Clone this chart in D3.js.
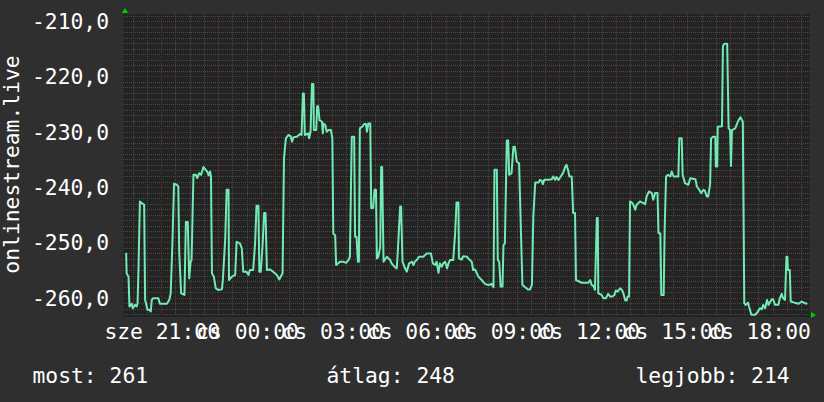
<!DOCTYPE html>
<html><head><meta charset="utf-8">
<script src="https://cdn.jsdelivr.net/npm/d3@7"></script>
<style>html,body{margin:0;padding:0;background:#2f2f2f;}svg{display:block;}</style>
</head><body><svg id="c" width="824" height="402"></svg>
<script>
// minutes since 00:00 of the first day (sze)
const times = [1185,1186,1190,1192,1197,1199,1204,1207,1209,1211,1214,1218,1223,1225,1230,1234,1237,1239,1242,1253,1256,1271,1276,1279,1283,1286,1292,1295,1297,1301,1308,1311,1315,1318,1321,1323,1327,1332,1335,1339,1343,1348,1353,1356,1359,1362,1364,1366,1370,1374,1379,1387,1389,1394,1397,1401,1402,1408,1415,1418,1425,1429,1432,1439,1443,1446,1453,1457,1460,1464,1466,1469,1473,1476,1479,1482,1489,1495,1503,1508,1513,1515,1518,1522,1527,1532,1535,1538,1545,1552,1555,1558,1560,1562,1569,1571,1574,1577,1580,1581,1586,1588,1590,1593,1598,1600,1601,1605,1608,1612,1617,1620,1622,1626,1628,1636,1643,1649,1654,
1657,1661,1666,1668,1671,1674,1676,1678,1683,1687,1691,1693,1696,1700,1702,1706,1709,1712,
1714,1717,1721,1723,1725,1728,1735,1742,1745,1751,1756,1759,1763,1765,1768,1772,1777,1782,1788,1791,1794,1798,1803,1812,1819,1828,
1832,1837,1840,1844,1847,1851,1854,1858,1862,1865,1868,1875,1879,1882,1886,1887,1893,1896,1904,1910,1914,1917,1921,1925,1928,1935,1942,1949,1956,1960,
1962,1967,1969,1972,1975,1979,1981,1984,1988,1991,1993,1998,2002,2005,2009,2014,2018,2021,2027,2032,2037,2041,
2044,2048,2055,2058,2062,2064,2067,2076,2083,2086,2090,2093,2097,2102,2107,2111,2114,2118,2120,2125,2128,2132,
2134,2146,2160,2164,2167,2171,2174,2178,2180,2181,2188,2192,2197,2202,2206,2211,2215,2218,2222,2227,2231,2234,2238,2241,2243,2246,
2248,2252,2255,2259,2262,2269,2276,2280,2283,2288,2294,2297,2301,2306,2308,2312,2314,2319,2321,2324,2328,2333,2336,2340,2350,
2352,2357,2359,2364,2371,2375,2386,2389,2394,2398,2403,2406,2410,2413,2417,2419,2424,2428,2429,2432,2433,2442,2444,2447,2453,2456,2459,2461,2463,2470,2474,2477,2481,2486,
2489,2492,2497,2499,2504,2512,2518,2522,2526,2529,2533,2537,2540,2547,2550,2554,2561,2564,2568,2571,2575,2578,2580,2581,2585,2587,2595,2604,2610,2617,2622];

const values = [-251.8,-255.5,-256.1,-261.5,-261.0,-261.8,-261.2,-261.5,-261.0,-254.9,-242.5,-242.8,-243.1,-260.3,-262.1,-262.1,-262.4,-260.3,-260.0,-260.0,-261.0,-261.0,-260.3,-259.1,-248.9,-239.3,-239.5,-239.8,-251.9,-259.1,-259.4,-246.2,-246.2,-256.4,-253.4,-253.1,-237.7,-237.7,-238.3,-237.4,-237.7,-236.3,-236.8,-237.1,-237.8,-237.1,-238.0,-255.5,-256.1,-258.2,-258.5,-258.4,-256.7,-249.2,-240.4,-240.4,-256.7,-256.1,-255.8,-249.8,-250.1,-251.0,-255.2,-255.2,-255.8,-254.9,-254.9,-250.1,-243.3,-243.3,-255.2,-255.2,-250.1,-244.6,-244.6,-254.9,-254.8,-255.2,-255.8,-256.6,-255.8,-255.5,-234.7,-231.1,-230.5,-230.7,-231.7,-230.9,-230.8,-230.3,-230.5,-223.0,-223.0,-230.5,-230.2,-231.1,-229.9,-221.3,-221.3,-229.6,-229.6,-225.3,-225.3,-227.8,-228.1,-230.2,-228.4,-228.7,-229.9,-229.6,-229.6,-231.1,-248.3,-248.6,-254.0,-253.4,-253.4,-253.6,-253.1,
-252.5,-230.8,-230.8,-248.9,-248.9,-253.4,-253.4,-229.3,-229.0,-228.5,-228.5,-229.9,-228.4,-228.4,-243.7,-243.7,-240.4,-240.4,
-252.8,-252.5,-250.7,-236.3,-236.3,-253.4,-252.5,-253.1,-253.7,-254.3,-254.6,-250.1,-243.4,-243.4,-253.4,-254.3,-255.2,-253.7,-253.4,-254.0,-253.4,-253.1,-252.5,-252.5,-251.9,-251.9,
-253.7,-254.0,-253.4,-255.4,-253.7,-254.3,-253.7,-253.4,-254.6,-253.7,-253.1,-253.1,-248.3,-242.7,-242.7,-252.8,-253.0,-252.4,-252.5,-253.1,-253.4,-254.9,-254.8,-255.5,-256.1,-256.7,-257.4,-257.6,-257.4,-258.0,
-236.8,-236.8,-253.1,-253.4,-257.9,-257.9,-250.4,-250.1,-231.5,-231.5,-237.7,-237.4,-232.6,-232.6,-235.3,-235.6,-248.3,-257.6,-258.0,-258.4,-258.4,-257.6,
-245.3,-239.1,-239.1,-238.6,-238.8,-239.4,-238.6,-238.6,-238.5,-238.0,-238.6,-238.1,-238.6,-238.0,-237.3,-236.3,-235.9,-237.1,-238.0,-238.0,-244.6,-244.6,
-256.7,-257.2,-257.2,-256.7,-257.6,-257.8,-258.5,-245.5,-245.5,-259.1,-259.4,-260.0,-260.0,-259.2,-259.7,-259.7,-259.4,-258.6,-258.8,-258.2,-258.5,-259.1,-260.4,-260.4,-259.7,-259.7,
-242.5,-242.7,-243.1,-244.0,-243.1,-242.5,-242.8,-243.0,-241.6,-240.7,-241.0,-242.2,-241.0,-241.0,-248.2,-248.3,-259.4,-259.4,-248.0,-238.0,-237.7,-238.0,-237.1,-238.0,-238.0,
-231.1,-231.1,-237.7,-239.2,-239.5,-238.3,-238.5,-239.8,-240.4,-241.0,-240.4,-240.6,-241.6,-241.6,-239.4,-231.1,-230.8,-230.8,-236.2,-236.2,-229.0,-228.9,-214.4,-214.0,-214.0,-229.3,-229.6,-236.1,-229.6,-229.3,-228.4,-227.8,-227.3,-228.1,
-260.9,-261.2,-260.8,-261.5,-263.0,-263.0,-262.4,-261.8,-262.0,-261.2,-261.8,-260.3,-261.2,-260.2,-260.2,-261.2,-261.2,-260.0,-259.2,-260.0,-260.3,-252.5,-252.5,-254.9,-254.9,-260.6,-260.8,-261.0,-260.6,-260.9,-261.0];

const yTicks = [-260, -250, -240, -230, -220, -210];
const xTickMinutes = [1260, 1440, 1620, 1800, 1980, 2160, 2340, 2520];
const xTickLabels = ["sze 21:00", "cs 00:00", "cs 03:00", "cs 06:00", "cs 09:00", "cs 12:00", "cs 15:00", "cs 18:00"];
const yTitle = "onlinestream.live";
const legendLabels = ["most:", "átlag:", "legjobb:"];
const legendValues = [261, 248, 214];

const FONT = "'DejaVu Sans Mono', monospace";
const FS = "21.33px";
const svg = d3.select("#c");
const L = 123, R = 810, T = 14, B = 315;

const x = d3.scaleLinear().domain([1178.35, 2627.7]).range([L, R]);
const y = d3.scaleLinear().domain([-263.03, -208.63]).range([B, T]);

svg.append("rect").attr("width", 824).attr("height", 402).attr("fill", "#2f2f2f");
svg.append("rect").attr("x", L).attr("y", T).attr("width", R - L).attr("height", B - T + 2).attr("fill", "#232323");

const snap = v => Math.round(v - 0.5) + 0.5;
const MINOR = "#484848", MAJOR = "#5e3232";
const grid = svg.append("g");
// minor horizontal (every 1), major every 10
d3.range(-263, -208).forEach(v => {
  const yy = snap(y(v));
  grid.append("line").attr("x1", L).attr("x2", R).attr("y1", yy).attr("y2", yy)
    .attr("stroke", v % 10 === 0 ? MAJOR : MINOR).attr("stroke-dasharray", "1,1");
});
// vertical: every 30 min, major every 2 hours
d3.range(1200, 2628, 30).forEach(m => {
  const xx = snap(x(m));
  const major = ((m - 1260) % 120 === 0);
  grid.append("line").attr("x1", xx).attr("x2", xx).attr("y1", T).attr("y2", B + 1)
    .attr("stroke", major ? MAJOR : MINOR).attr("stroke-dasharray", "1,1");
});

// data line
svg.append("clipPath").attr("id", "clip").append("rect").attr("x", L).attr("y", T - 1).attr("width", R - L).attr("height", B - T + 3);
const data = times.map((t, i) => [t, values[i]]);
svg.append("path").datum(data).attr("clip-path", "url(#clip)")
  .attr("fill", "none").attr("stroke", "#72eab4").attr("stroke-width", 2).attr("stroke-linejoin", "round")
  .attr("d", d3.line().x(d => x(d[0])).y(d => y(d[1])));

// arrows
svg.append("path").attr("d", `M${L - 1},13 L${L + 5},13 L${L + 2},8 Z`).attr("fill", "#00cc00");
svg.append("path").attr("d", `M${R + 1},${B - 3} L${R + 1},${B + 3} L${R + 6},${B} Z`).attr("fill", "#00cc00");

// y axis labels
const loc = d3.formatLocale({decimal: ",", thousands: " ", grouping: [3], currency: ["", ""], minus: "-"});
const fmt = loc.format(".1f");
const yAxis = d3.axisLeft(y).tickValues(yTicks).tickFormat(fmt).tickSize(0).tickPadding(0);
const gy = svg.append("g").attr("transform", "translate(109,0)").call(yAxis);
gy.select(".domain").remove();
gy.selectAll("text").attr("fill", "#ffffff").attr("font-family", FONT).attr("font-size", FS).attr("dy", "0.33em");

// x axis labels
const xAxis = d3.axisBottom(x).tickValues(xTickMinutes).tickFormat((d, i) => xTickLabels[i]).tickSize(0).tickPadding(0);
const gx = svg.append("g").attr("transform", "translate(0,339)").call(xAxis);
gx.select(".domain").remove();
gx.selectAll("text").attr("fill", "#ffffff").attr("font-family", FONT).attr("font-size", FS).attr("dy", 0).attr("y", 0);

// y title
svg.append("text").attr("transform", "translate(18.5,164.5) rotate(-90)").attr("text-anchor", "middle")
  .attr("fill", "#ffffff").attr("font-family", FONT).attr("font-size", FS).text(yTitle);

// legend
const legX = [32.5, 326.5, 635.5];
legendLabels.forEach((lab, i) => {
  svg.append("text").attr("x", legX[i]).attr("y", 383).attr("fill", "#ffffff")
    .attr("font-family", FONT).attr("font-size", FS).text(lab + " " + legendValues[i]);
});
</script></body></html>
